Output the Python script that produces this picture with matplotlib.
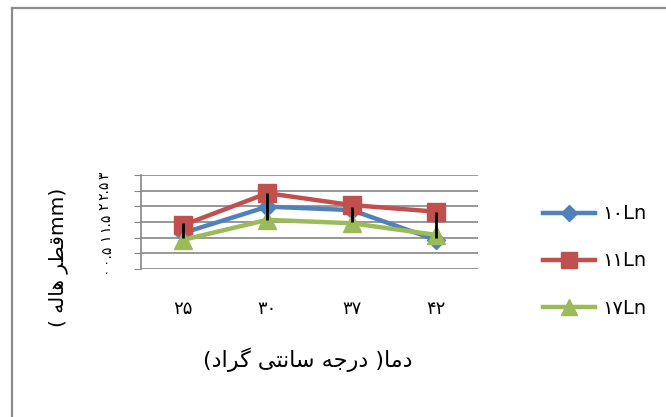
import matplotlib
matplotlib.use("Agg")
import matplotlib.pyplot as plt
from matplotlib.lines import Line2D

plt.rcParams['font.family'] = ['DejaVu Sans']

# داده ها
temps = ["25", "30", "37", "42"]
ln10 = [1.15, 1.99, 1.88, 0.93]
ln11 = [1.40, 2.42, 2.04, 1.83]
ln17 = [0.93, 1.57, 1.46, 1.09]
err_low = [0.99, 1.57, 1.51, 0.98]
err_high = [1.47, 2.43, 1.99, 1.83]
series_names = ["10Ln", "11Ln", "17Ln"]
yticks = [0, 0.5, 1, 1.5, 2, 2.5, 3]

FA = str.maketrans("0123456789", "۰۱۲۳۴۵۶۷۸۹")


def fa(s):
    return str(s).translate(FA)


# matplotlib shaping/bidi nadarad -> presentation forms, visual order (chap be rast)
xlabel_txt = "(ﺩﺍﺮﮔ ﻰﺘﻧﺎﺳ ﻪﺟﺭﺩ )ﺎﻣﺩ"
ylabel_txt = "( ﻪﻟﺎﻫ ﺮﻄﻗmm)"

W, H = 666, 417
fig = plt.figure(figsize=(W / 100, H / 100), dpi=100)

# chart border
fig.add_artist(Line2D([12 / W, 12 / W], [0, 1 - 8 / H], color="#8c8c8c", lw=1.6))
fig.add_artist(Line2D([12 / W, 1], [1 - 8 / H, 1 - 8 / H], color="#8c8c8c", lw=1.6))

ax = fig.add_axes([141 / W, 1 - 269 / H, 337 / W, 94 / H])

x = list(range(len(temps)))
colors = ["#4F81BD", "#C0504D", "#9BBB59"]
markers = ["D", "s", "^"]
msizes = [9, 13, 13]
for vals, c, m, ms, name in zip([ln10, ln11, ln17], colors, markers, msizes, series_names):
    ax.plot(x, vals, color=c, lw=3.2, marker=m, markersize=ms,
            markeredgecolor=c, label=fa(name), zorder=3)

ax.vlines(x, err_low, err_high, color="black", lw=2, zorder=5)

ax.set_xlim(-0.5, 3.5)
ax.set_ylim(0, 3)
ax.set_yticks(yticks)
ax.set_yticklabels([fa(t) for t in yticks], rotation=90, fontsize=10,
                   va="center", ha="center")
ax.yaxis.grid(True, color="#868686", lw=1.2)
ax.set_axisbelow(True)
ax.set_xticks(x)
ax.set_xticklabels([fa(t) for t in temps], fontsize=13)
ax.tick_params(axis="x", length=0, pad=22)
ax.tick_params(axis="y", length=5, color="#868686", pad=21)
for s in ["top", "right", "bottom"]:
    ax.spines[s].set_visible(False)
ax.spines["left"].set_color("#868686")
ax.spines["left"].set_linewidth(1.2)

fig.text(308 / W, 1 - 360 / H, xlabel_txt, fontsize=16, ha="center", va="center")
fig.text(58 / W, 1 - 257 / H, ylabel_txt, fontsize=14.5, rotation=90,
         ha="center", va="center")

fig.legend(loc="center left", bbox_to_anchor=(525 / W, 1 - 261 / H),
           frameon=False, fontsize=14, labelspacing=1.45, handlelength=2.7,
           handletextpad=0.4, markerscale=0.9)

fig.savefig("out.png", dpi=100)
